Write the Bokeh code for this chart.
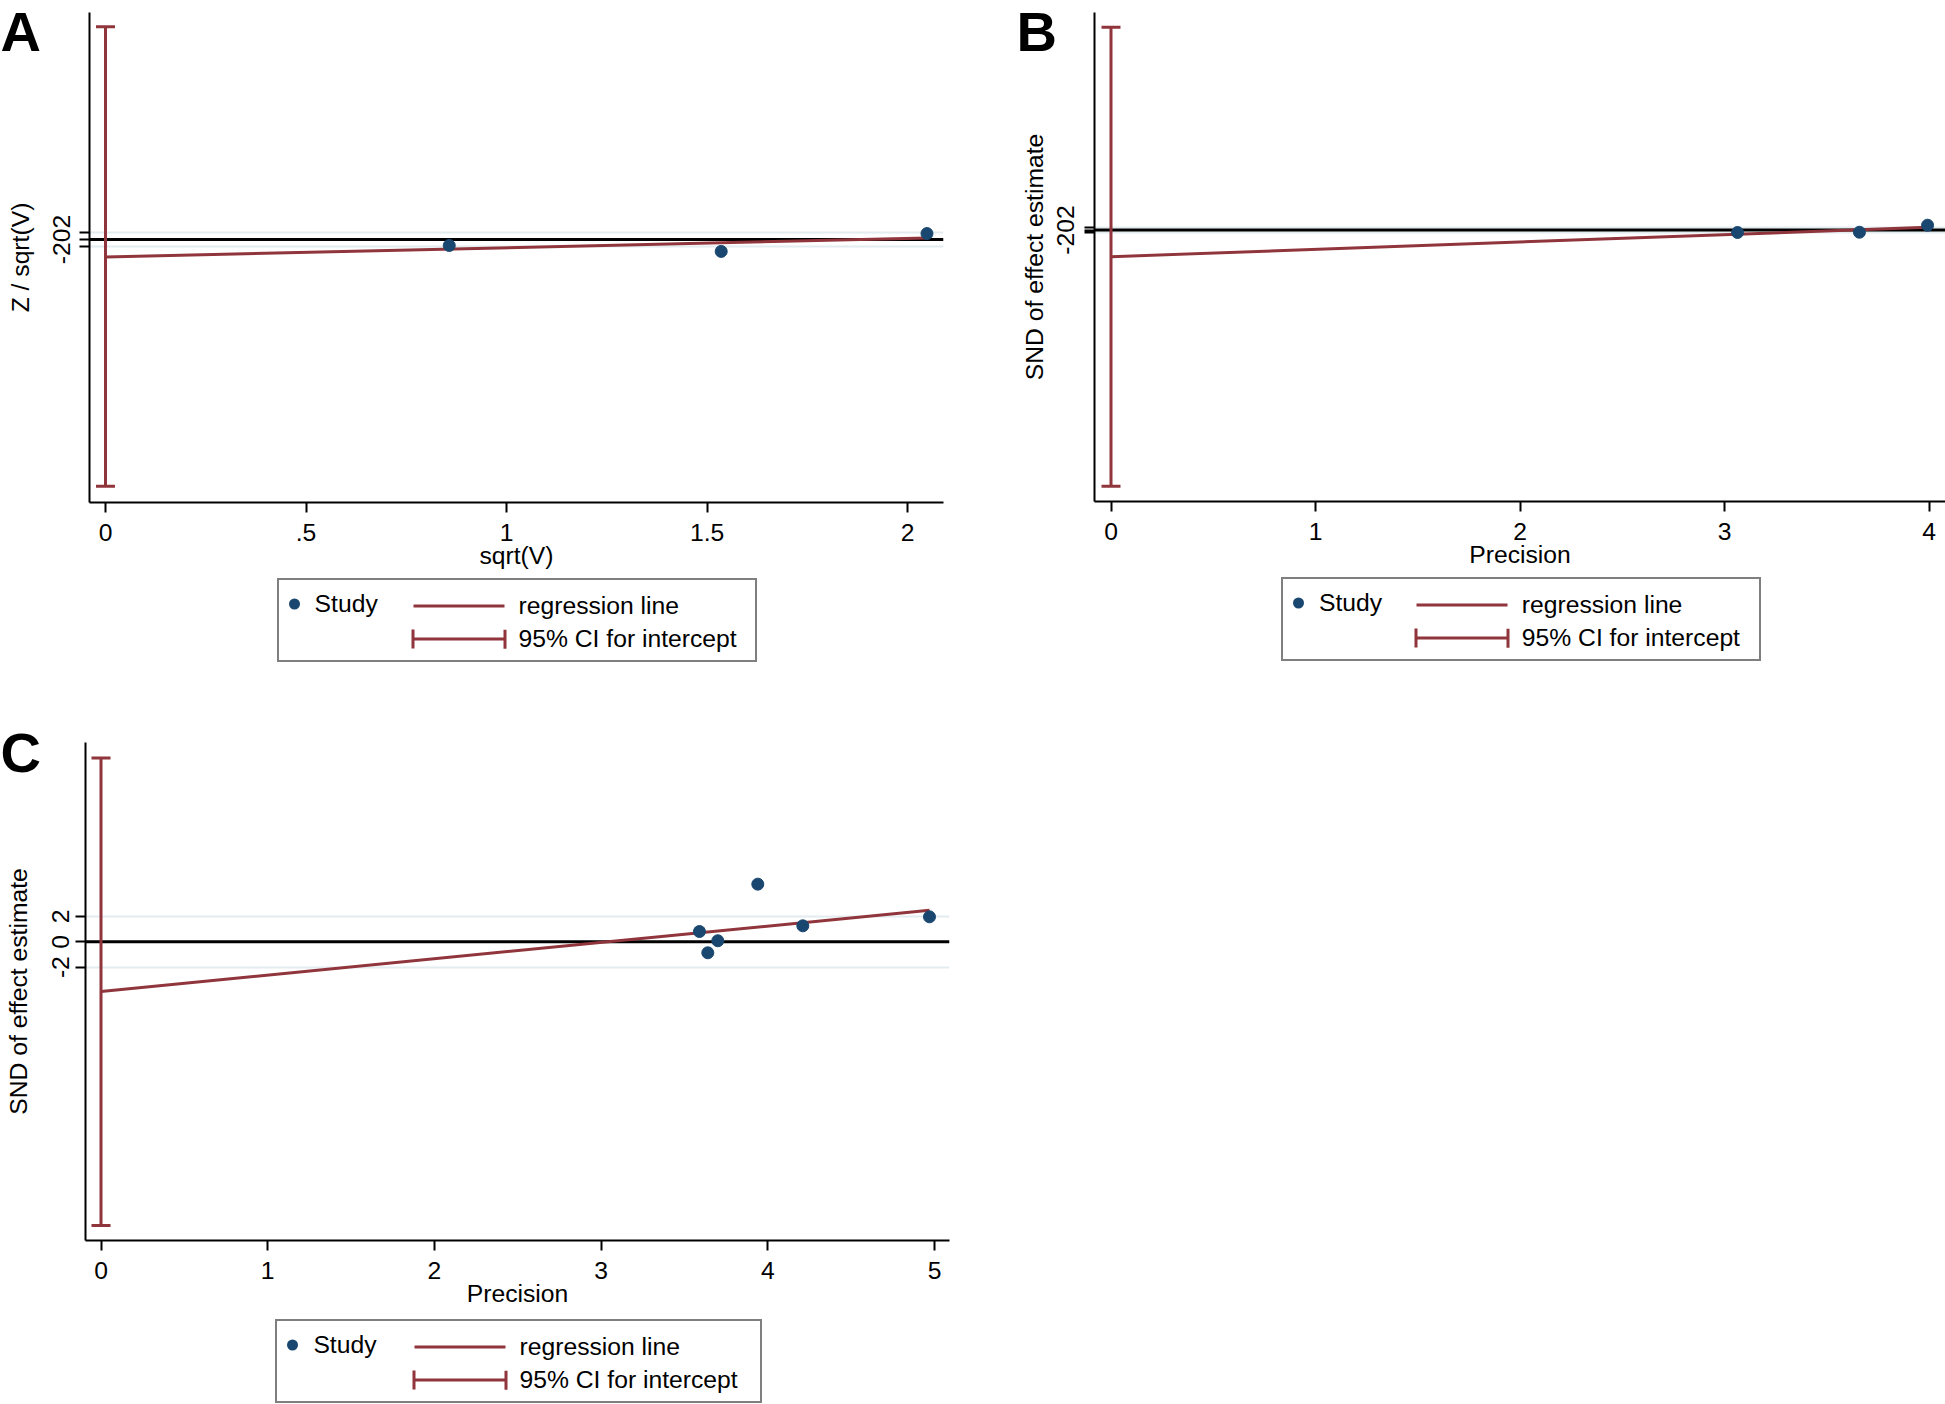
from bokeh.plotting import figure
from bokeh.models import Range1d, FixedTicker, Span, Legend, LegendItem, Label, GridBox
from bokeh.embed import file_html
from bokeh.resources import INLINE

# ---------------- data ----------------
# Panel A : Z / sqrt(V) against sqrt(V)
a_x = [0.857, 1.535, 2.048]
a_y = [-1.7, -3.4, 1.7]
a_intercept = -5.0
a_slope = 2.65
a_ci = [-70.5, 60.8]
a_xticks = [0, 0.5, 1, 1.5, 2]
a_xtick_labels = ["0", ".5", "1", "1.5", "2"]
a_yticks = [-2, 0, 2]
a_ytick_labels = ["-2", "0", "2"]

# Panel B : SND of effect estimate against precision
b_x = [3.063, 3.659, 3.992]
b_y = [-1.9, -1.7, 3.7]
b_intercept = -20.5
b_slope = 5.65
b_ci = [-197.0, 156.0]
b_xticks = [0, 1, 2, 3, 4]
b_xtick_labels = ["0", "1", "2", "3", "4"]
b_yticks = [-2, 0, 2]
b_ytick_labels = ["-2", "0", "2"]

# Panel C : SND of effect estimate against precision
c_x = [3.59, 3.64, 3.70, 3.94, 4.21, 4.97]
c_y = [0.81, -0.87, 0.08, 4.55, 1.26, 1.97]
c_intercept = -3.92
c_slope = 1.29
c_ci = [-22.4, 14.5]
c_xticks = [0, 1, 2, 3, 4, 5]
c_xtick_labels = ["0", "1", "2", "3", "4", "5"]
c_yticks = [-2, 0, 2]
c_ytick_labels = ["-2", "0", "2"]

legend_labels = ["Study", "regression line", "95% CI for intercept"]
panel_letters = ["A", "B", "C"]

# ---------------- style ----------------
NAVY = "#1a476f"
CRAN = "#90353b"
GRIDC = "#e3ecef"
FONT = "Liberation Sans"
FS = "24.7px"


def panel(xs, ys, b0, b1, ci, xticks, xlabels, yticks, ylabels, squeeze,
          xtitle, ytitle, width, height, borders, xr, yr, ystd, ytitle_std):
    bl, br, bt, bb = borders
    p = figure(width=width, height=height, x_range=Range1d(*xr), y_range=Range1d(*yr),
               toolbar_location=None, output_backend="svg", title=None,
               min_border_left=bl, min_border_right=br, min_border_top=bt, min_border_bottom=bb)
    p.frame_align = False
    p.outline_line_color = None
    p.background_fill_color = "white"
    p.border_fill_color = "white"
    p.xgrid.visible = False
    p.ygrid.ticker = FixedTicker(ticks=yticks)
    p.ygrid.grid_line_color = GRIDC
    p.ygrid.grid_line_width = 2

    for ax in (p.xaxis[0], p.yaxis[0]):
        ax.axis_line_color = "black"
        ax.axis_line_width = 2
        ax.major_tick_line_color = "black"
        ax.major_tick_line_width = 2
        ax.major_tick_out = 10
        ax.major_tick_in = 0
        ax.minor_tick_out = 0
        ax.minor_tick_in = 0
        ax.major_label_text_font = FONT
        ax.major_label_text_font_size = FS
        ax.major_label_text_color = "black"
        ax.axis_label_text_font = FONT
        ax.axis_label_text_font_size = FS
        ax.axis_label_text_font_style = "normal"
        ax.axis_label_text_color = "black"

    xa = p.xaxis[0]
    xa.ticker = FixedTicker(ticks=xticks)
    xa.major_label_overrides = {t: l for t, l in zip(xticks, xlabels)}
    xa.major_label_standoff = 11
    xa.axis_label = xtitle
    xa.axis_label_standoff = -2

    ya = p.yaxis[0]
    ya.ticker = FixedTicker(ticks=yticks)
    if squeeze:
        # ticks only a few pixels apart: the labels run together into one string
        mid = len(yticks) // 2
        ya.major_label_overrides = {t: ("".join(ylabels) if i == mid else "")
                                    for i, t in enumerate(yticks)}
    else:
        ya.major_label_overrides = {t: l for t, l in zip(yticks, ylabels)}
    ya.major_label_orientation = "vertical"
    ya.major_label_standoff = ystd
    ya.axis_label = ytitle
    ya.axis_label_standoff = ytitle_std

    # reference line at zero
    p.add_layout(Span(location=0, dimension="width", line_color="black",
                      line_width=3, level="underlay"))

    # confidence interval for the intercept
    p.segment(x0=[0], y0=[ci[0]], x1=[0], y1=[ci[1]], line_color=CRAN, line_width=3)
    p.scatter(x=[0, 0], y=ci, marker="dash", size=19, line_color=CRAN, line_width=3)

    # regression line from 0 to the largest x
    xmax = max(xs)
    p.line(x=[0, xmax], y=[b0, b0 + b1 * xmax], line_color=CRAN, line_width=3)

    # studies
    p.scatter(x=xs, y=ys, size=12, fill_color=NAVY, line_color=NAVY)
    return p


pA = panel(a_x, a_y, a_intercept, a_slope, a_ci, a_xticks, a_xtick_labels,
           a_yticks, a_ytick_labels, True, "sqrt(V)", "Z / sqrt(V)",
           1000, 702, (89, 57, 12, 200), (-0.0399, 2.0892), (-75.14, 64.86), 9, 17)

pB = panel(b_x, b_y, b_intercept, b_slope, b_ci, b_xticks, b_xtick_labels,
           b_yticks, b_ytick_labels, True, "Precision", "SND of effect estimate",
           945, 702, (94, 0, 12, 201), (-0.0807, 4.0797), (-208.8, 167.3), 10, 7)

pC = panel(c_x, c_y, c_intercept, c_slope, c_ci, c_xticks, c_xtick_labels,
           c_yticks, c_ytick_labels, False, "Precision", "SND of effect estimate",
           1000, 702, (85, 51, 40, 164), (-0.093, 5.09), (-23.58, 15.73), 6, 18)

# ---------------- transparent overlay carrying legends and panel letters ----------------
OW, OH = 1945, 1404
ov = figure(width=OW, height=OH, x_range=Range1d(-1000, -999), y_range=Range1d(-1000, -999),
            toolbar_location=None, output_backend="svg", title=None, min_border=0,
            x_axis_location=None, y_axis_location=None)
ov.frame_align = False
ov.grid.visible = False
ov.outline_line_color = None
ov.background_fill_alpha = 0
ov.border_fill_alpha = 0

common = dict(orientation="vertical", glyph_height=33, label_height=33, spacing=0,
              padding=7, margin=0, label_text_font=FONT, label_text_font_size=FS,
              label_text_color="black")

# (data, legend-1 left, legend bottom, legend-2 left, legend-1 label width)
legend_specs = [
    ((a_x, a_y, a_intercept, a_slope, a_ci), 276.6, 662.4, 393.5, 433),
    ((b_x, b_y, b_intercept, b_slope, b_ci), 1281.0, 661.0, 1396.8, 433),
    ((c_x, c_y, c_intercept, c_slope, c_ci), 275.4, 1403.0, 394.5, 440),
]
for (xs, ys, b0, b1, ci), l1, bottom, l2, lw in legend_specs:
    # legend keys: same data, lying outside the overlay's ranges (never drawn in its frame)
    xmax = max(xs)
    # round-capped zero-length dash -> a single dot near the left of the key
    study_key = ov.line(x=xs, y=ys, line_color=NAVY, line_width=11, line_cap="round",
                        line_dash="0 1000", line_dash_offset=992)
    blank_key = ov.scatter(x=[0], y=[0], size=1, fill_alpha=0, line_alpha=0)
    reg_key = ov.line(x=[0, xmax], y=[b0, b0 + b1 * xmax], line_color=CRAN, line_width=3,
                      line_dash="0 12 91 12")
    ci_key_line = ov.segment(x0=[0], y0=[ci[0]], x1=[0], y1=[ci[1]], line_color=CRAN,
                             line_width=3, line_dash="0 12 91 12")
    ci_key_caps = ov.rect(x=[0], y=[(ci[0] + ci[1]) / 2], width=[0.01], height=[ci[1] - ci[0]],
                          fill_alpha=0, line_color=CRAN, line_width=3,
                          line_dash="0 96 19 99 19 4")
    vy = OH - bottom
    leg1 = Legend(items=[LegendItem(label=legend_labels[0], renderers=[study_key]),
                         LegendItem(label=" ", renderers=[blank_key])],
                  location=(l1, vy), glyph_width=16, label_standoff=13, label_width=lw,
                  border_line_color="black", border_line_width=2,
                  background_fill_color="white", background_fill_alpha=1, **common)
    leg2 = Legend(items=[LegendItem(label=legend_labels[1], renderers=[reg_key]),
                         LegendItem(label=legend_labels[2], renderers=[ci_key_line, ci_key_caps])],
                  location=(l2, vy), glyph_width=115, label_standoff=3,
                  border_line_alpha=0, background_fill_alpha=0, **common)
    ov.add_layout(leg1)
    ov.add_layout(leg2)

for letter, lx, base in zip(panel_letters, [0, 1016, 0], [31, 31, 752]):
    ov.add_layout(Label(x=lx, y=OH - base, x_units="screen", y_units="screen",
                        text=letter, text_font=FONT, text_font_size="56px",
                        text_font_style="bold", text_color="black",
                        text_align="left", text_baseline="alphabetic"))

layout = GridBox(children=[(pA, 0, 0), (pB, 0, 1), (pC, 1, 0), (ov, 0, 0, 2, 2)], spacing=0)
open("out.html", "w").write(file_html(layout, INLINE))
